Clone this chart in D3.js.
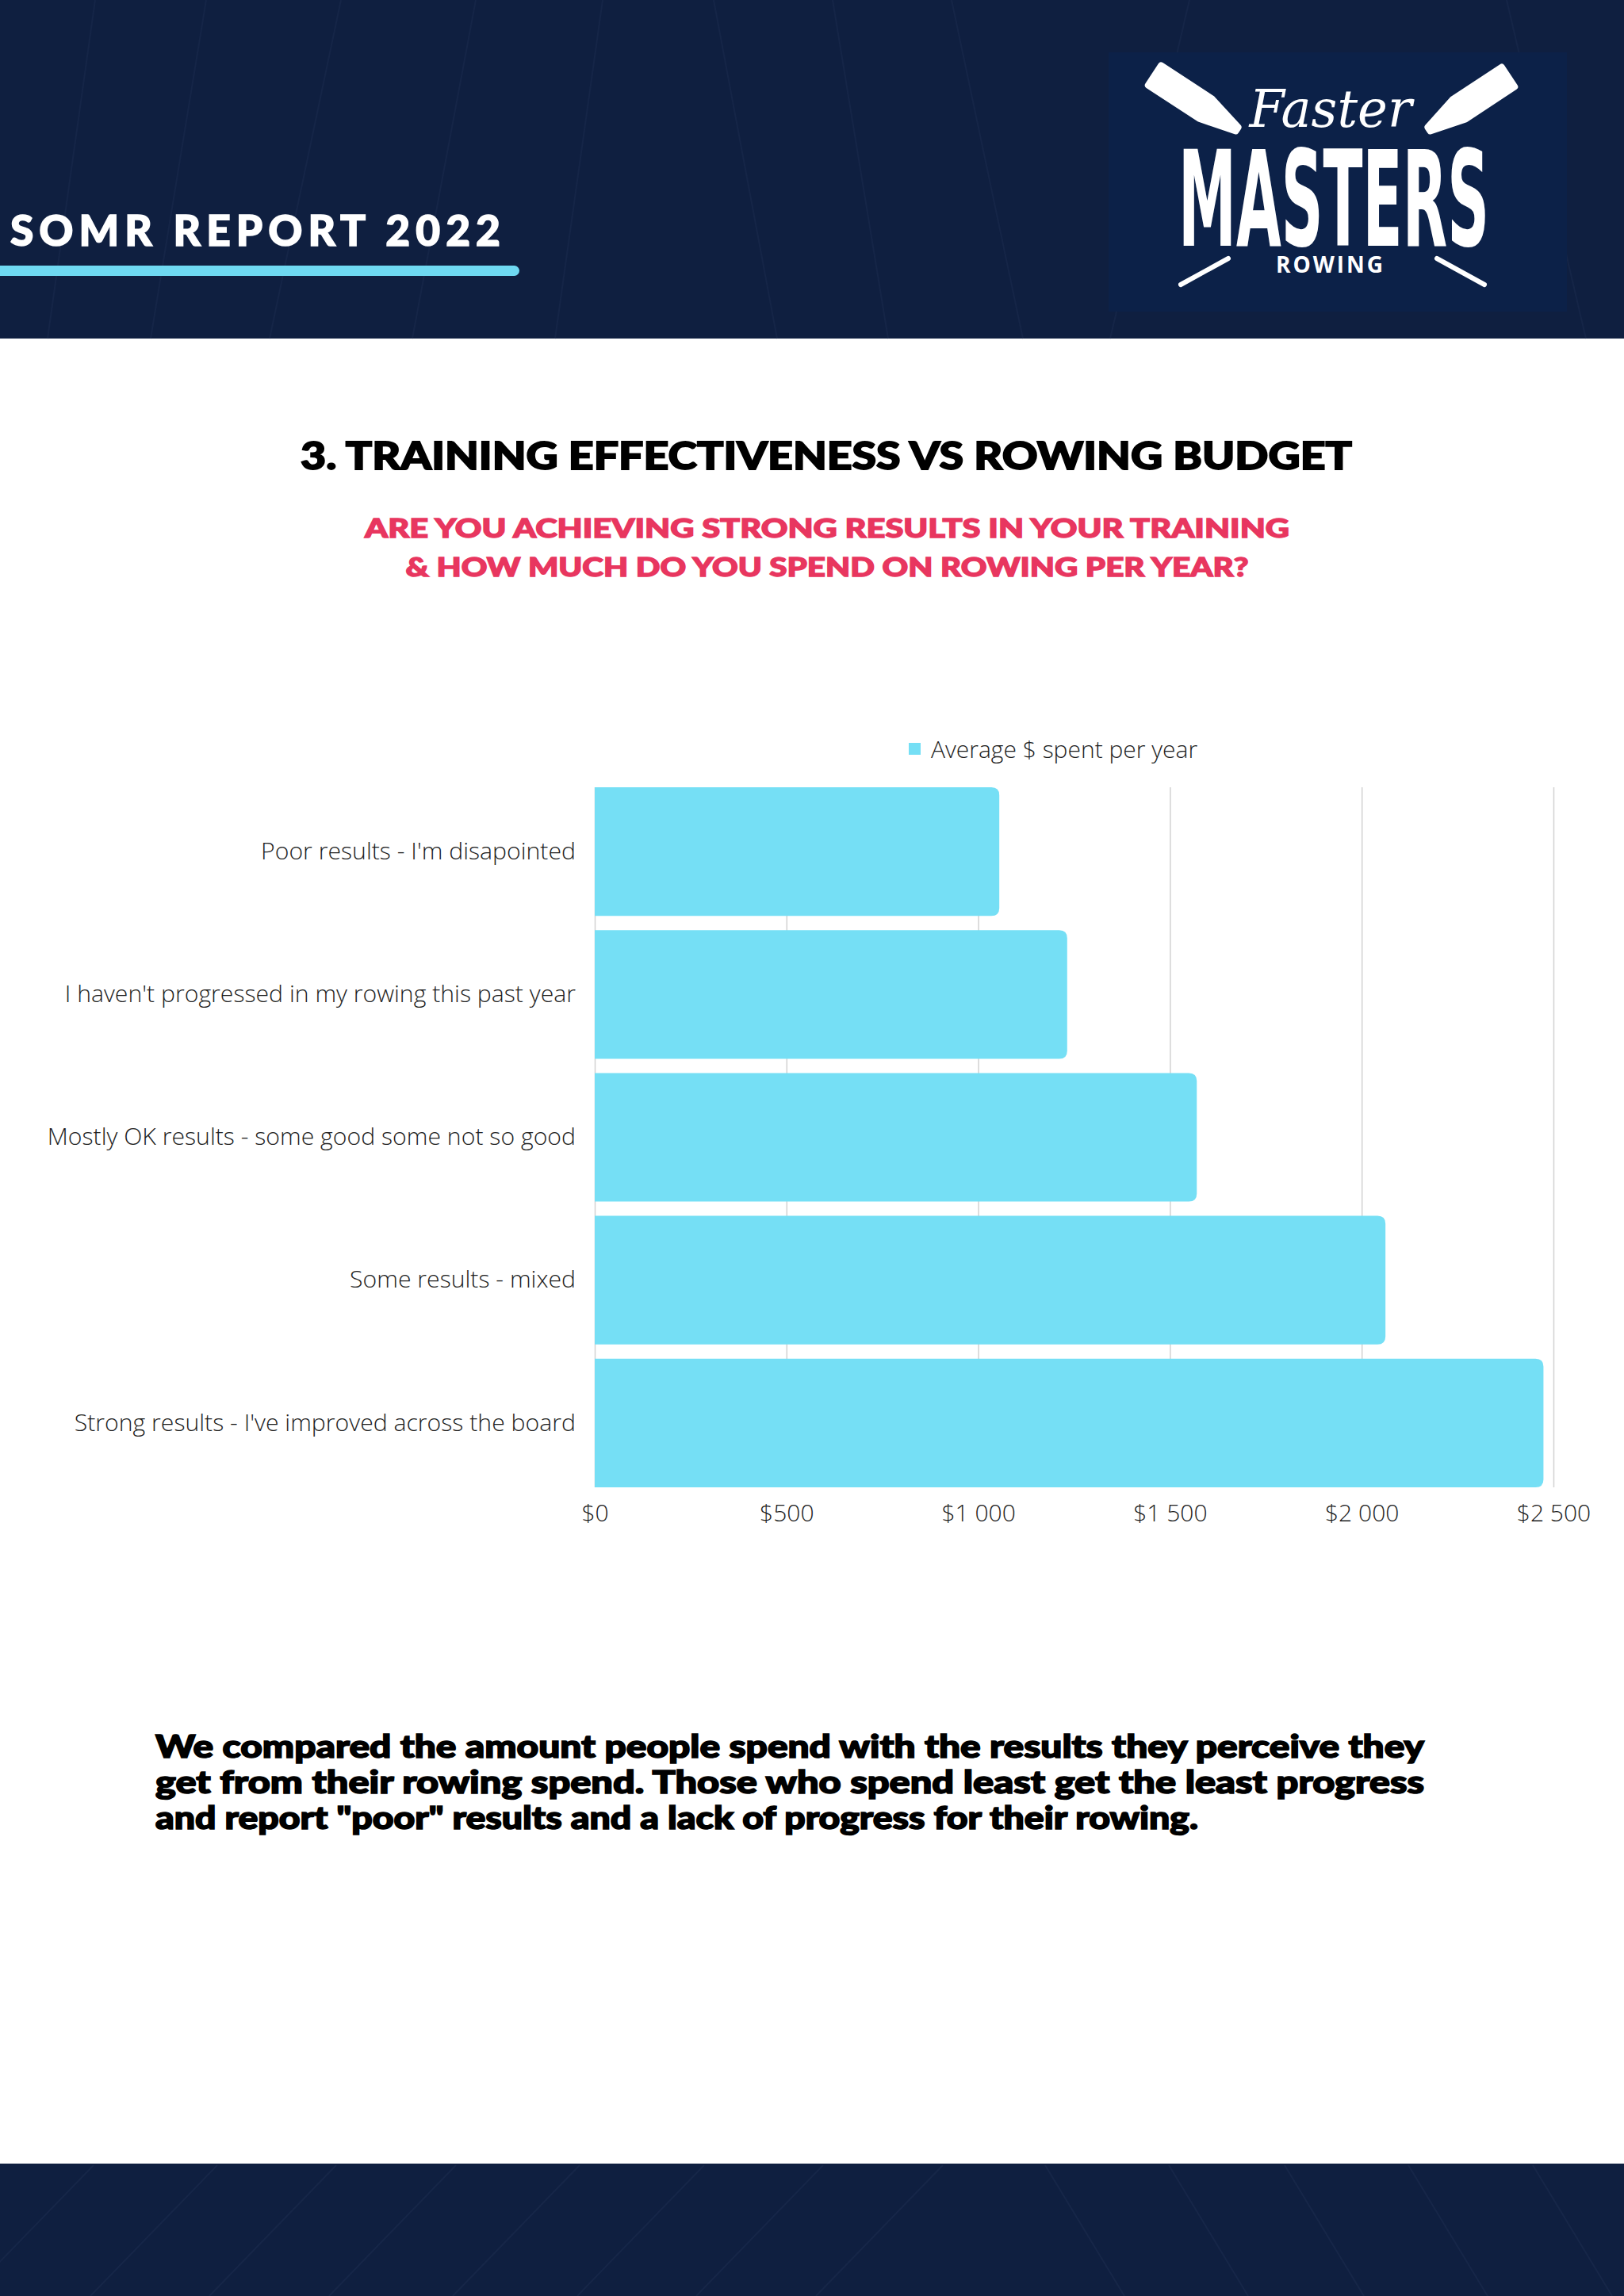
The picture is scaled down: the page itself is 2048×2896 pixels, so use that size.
<!DOCTYPE html>
<html>
<head>
<meta charset="utf-8">
<script src="https://cdn.jsdelivr.net/npm/d3@7"></script>
<style>
  html, body { margin: 0; padding: 0; background: #ffffff; }
  svg { display: block; }
</style>
</head>
<body>
<svg id="chart" width="2048" height="2896"></svg>
<script>
// ---------------- DATA ----------------
const categories = [
  "Poor results - I'm disapointed",
  "I haven't progressed in my rowing this past year",
  "Mostly OK results - some good some not so good",
  "Some results - mixed",
  "Strong results - I've improved across the board"
];
const avgSpent = [1055, 1232, 1570, 2062, 2474];
const seriesName = "Average $ spent per year";
const tickValues = [0, 500, 1000, 1500, 2000, 2500];

const headerText = "SOMR REPORT 2022";
const titleText = "3. TRAINING EFFECTIVENESS VS ROWING BUDGET";
const subtitleLines = [
  "ARE YOU ACHIEVING STRONG RESULTS IN YOUR TRAINING",
  "& HOW MUCH DO YOU SPEND ON ROWING PER YEAR?"
];
const paragraphLines = [
  "We compared the amount people spend with the results they perceive they",
  "get from their rowing spend. Those who spend least get the least progress",
  "and report \"poor\" results and a lack of progress for their rowing."
];

// ---------------- SETUP ----------------
const W = 2048, H = 2896;
const svg = d3.select("#chart");
const navy = "#0f1f40";
const barColor = "#75dff5";
const heavy = "Lato, 'Open Sans', sans-serif";
const light = "'Open Sans', 'Noto Sans', sans-serif";

svg.append("rect").attr("width", W).attr("height", H).attr("fill", "#ffffff");

// ---------------- HEADER ----------------
const header = svg.append("g");
header.append("rect").attr("x", 0).attr("y", 0).attr("width", W).attr("height", 427).attr("fill", navy);
const hdrLines = [[120,0,60,427],[260,0,190,427],[430,0,340,427],[600,0,520,427],[760,0,700,427],
                  [900,0,980,427],[1050,0,1120,427],[1200,0,1290,427],[1500,0,1400,427],[1900,0,2000,427]];
header.selectAll("line.pat").data(hdrLines).join("line")
  .attr("x1", d => d[0]).attr("y1", d => d[1]).attr("x2", d => d[2]).attr("y2", d => d[3])
  .attr("stroke", "#1a2a4c").attr("stroke-width", 2).attr("opacity", 0.6);

header.append("text")
  .attr("x", 13).attr("y", 310)
  .attr("font-family", heavy).attr("font-weight", 900).attr("font-size", 53)
  .attr("letter-spacing", 7)
  .attr("stroke", "#ffffff").attr("stroke-width", 1.5)
  .attr("textLength", 625).attr("lengthAdjust", "spacingAndGlyphs")
  .attr("fill", "#ffffff").text(headerText);
header.append("rect")
  .attr("x", -10).attr("y", 335).attr("width", 665).attr("height", 13).attr("rx", 6.5)
  .attr("fill", "#6fd9f2");

// logo
const logo = svg.append("g");
logo.append("rect").attr("x", 1398).attr("y", 66).attr("width", 578).attr("height", 327).attr("fill", "#0c2148");
const blade = (x1, y1, x2, y2, w) => {
  const dx = x2 - x1, dy = y2 - y1, L = Math.hypot(dx, dy);
  const nx = -dy / L, ny = dx / L;
  const p = [
    [x1 + nx * w / 2, y1 + ny * w / 2],
    [x1 + dx * 0.62 + nx * w / 2, y1 + dy * 0.62 + ny * w / 2],
    [x2 + nx * 3, y2 + ny * 3],
    [x2 - nx * 3, y2 - ny * 3],
    [x1 + dx * 0.62 - nx * w / 2, y1 + dy * 0.62 - ny * w / 2],
    [x1 - nx * w / 2, y1 - ny * w / 2]
  ];
  return "M" + p.map(q => q.join(",")).join("L") + "Z";
};
logo.append("path").attr("d", blade(1456, 95, 1560, 163, 30)).attr("fill", "#fff")
  .attr("stroke", "#fff").attr("stroke-width", 8).attr("stroke-linejoin", "round");
logo.append("path").attr("d", blade(1902, 97, 1802, 163, 30)).attr("fill", "#fff")
  .attr("stroke", "#fff").attr("stroke-width", 8).attr("stroke-linejoin", "round");
logo.append("line").attr("x1", 1549).attr("y1", 326).attr("x2", 1489).attr("y2", 359)
  .attr("stroke", "#fff").attr("stroke-width", 6).attr("stroke-linecap", "round");
logo.append("line").attr("x1", 1812).attr("y1", 326).attr("x2", 1872).attr("y2", 359)
  .attr("stroke", "#fff").attr("stroke-width", 6).attr("stroke-linecap", "round");
logo.append("text")
  .attr("x", 1678).attr("y", 160).attr("text-anchor", "middle")
  .attr("font-family", "'DejaVu Serif', serif").attr("font-style", "italic").attr("font-size", 66)
  .attr("textLength", 205).attr("lengthAdjust", "spacingAndGlyphs")
  .attr("fill", "#fff").text("Faster");
logo.append("text")
  .attr("transform", "translate(1682,310) scale(1,1.62)")
  .attr("text-anchor", "middle")
  .attr("font-family", "'Liberation Sans Narrow', 'DejaVu Sans Condensed', 'Liberation Sans', sans-serif")
  .attr("font-weight", 700).attr("font-size", 104)
  .attr("textLength", 392).attr("lengthAdjust", "spacingAndGlyphs")
  .attr("fill", "#fff").text("MASTERS");
logo.append("text")
  .attr("x", 1678).attr("y", 344).attr("text-anchor", "middle")
  .attr("font-family", "'Open Sans', sans-serif").attr("font-weight", 700).attr("font-size", 28)
  .attr("letter-spacing", 3)
  .attr("fill", "#fff").text("ROWING");

// ---------------- TITLES ----------------
svg.append("text")
  .attr("x", 1042).attr("y", 592).attr("text-anchor", "middle")
  .attr("font-family", heavy).attr("font-weight", 900).attr("font-size", 48)
  .attr("stroke", "#000").attr("stroke-width", 1.8)
  .attr("textLength", 1326).attr("lengthAdjust", "spacingAndGlyphs")
  .attr("fill", "#000").text(titleText);
const subLen = [1166, 1063];
svg.selectAll("text.sub").data(subtitleLines).join("text")
  .attr("class", "sub")
  .attr("x", 1043).attr("y", (d, i) => 678 + i * 49).attr("text-anchor", "middle")
  .attr("font-family", heavy).attr("font-weight", 900).attr("font-size", 33)
  .attr("stroke", "#e8365f").attr("stroke-width", 1.4)
  .attr("textLength", (d, i) => subLen[i]).attr("lengthAdjust", "spacingAndGlyphs")
  .attr("fill", "#e8365f").text(d => d);

// ---------------- CHART ----------------
const x = d3.scaleLinear().domain([0, 2500]).range([750, 1959]);
const y = d3.scaleBand().domain(categories).range([993, 1876]).paddingInner(0.1).paddingOuter(0);

// gridlines
svg.append("g")
  .attr("transform", `translate(0,${1876})`)
  .call(d3.axisBottom(x).tickValues(tickValues).tickSize(-(1876 - 993)).tickFormat(""))
  .call(g => g.select(".domain").remove())
  .call(g => g.selectAll(".tick line").attr("stroke", "#d2d2d2").attr("stroke-width", 1.5));

// bars
const r = 10;
svg.append("g").selectAll("path.bar").data(avgSpent).join("path")
  .attr("class", "bar")
  .attr("fill", barColor)
  .attr("d", (v, i) => {
    const x0 = x(0), x1 = x(v), y0 = y(categories[i]), h = y.bandwidth();
    return `M${x0},${y0}H${x1 - r}Q${x1},${y0} ${x1},${y0 + r}V${y0 + h - r}Q${x1},${y0 + h} ${x1 - r},${y0 + h}H${x0}Z`;
  });

// x axis labels
const loc = d3.formatLocale({ decimal: ".", thousands: " ", grouping: [3], currency: ["$", ""] });
const fmt = loc.format("$,");
svg.append("g")
  .attr("transform", `translate(0,${1876})`)
  .call(d3.axisBottom(x).tickValues(tickValues).tickSize(0).tickPadding(22).tickFormat(d => fmt(d)))
  .call(g => g.select(".domain").remove())
  .call(g => g.selectAll(".tick text")
    .attr("font-family", light).attr("font-weight", 300).attr("font-size", 30).attr("fill", "#1e1e1e")
    .attr("dy", "0.71em"));

// y axis labels
svg.append("g")
  .attr("transform", `translate(${750},0)`)
  .call(d3.axisLeft(y).tickSize(0).tickPadding(24))
  .call(g => g.select(".domain").remove())
  .call(g => g.selectAll(".tick text")
    .attr("font-family", light).attr("font-weight", 300).attr("font-size", 30.2).attr("fill", "#1e1e1e"));

// legend
const legend = svg.append("g");
legend.append("rect").attr("x", 1146).attr("y", 937).attr("width", 15).attr("height", 15).attr("fill", barColor);
legend.append("text").attr("x", 1174).attr("y", 945).attr("dy", "0.35em")
  .attr("font-family", light).attr("font-weight", 300).attr("font-size", 30).attr("fill", "#1e1e1e")
  .text(seriesName);

// ---------------- PARAGRAPH ----------------
const paraBase = [2217, 2262, 2307];
svg.selectAll("text.para").data(paragraphLines).join("text")
  .attr("class", "para")
  .attr("x", 196).attr("y", (d, i) => paraBase[i])
  .attr("font-family", heavy).attr("font-weight", 900).attr("font-size", 39)
  .attr("stroke", "#000").attr("stroke-width", 1.6)
  .attr("textLength", (d, i) => i < 2 ? 1600 : 1315)
  .attr("lengthAdjust", "spacingAndGlyphs")
  .attr("fill", "#000").text(d => d);

// ---------------- FOOTER ----------------
const footer = svg.append("g");
footer.append("rect").attr("x", 0).attr("y", 2729).attr("width", W).attr("height", H - 2729).attr("fill", navy);
const ftTops = [118, 274, 424, 575, 731, 888, 1038, 1189];
const ftTops2 = [1318, 1474, 1620, 1776, 1933];
footer.selectAll("line.f1").data(ftTops).join("line")
  .attr("x1", d => d).attr("y1", 2731).attr("x2", d => d - 160).attr("y2", H)
  .attr("stroke", "#1a2a4c").attr("stroke-width", 2).attr("opacity", 0.7);
footer.selectAll("line.f2").data(ftTops2).join("line")
  .attr("x1", d => d).attr("y1", 2731).attr("x2", d => d + 100).attr("y2", H)
  .attr("stroke", "#1a2a4c").attr("stroke-width", 2).attr("opacity", 0.7);
</script>
</body>
</html>
